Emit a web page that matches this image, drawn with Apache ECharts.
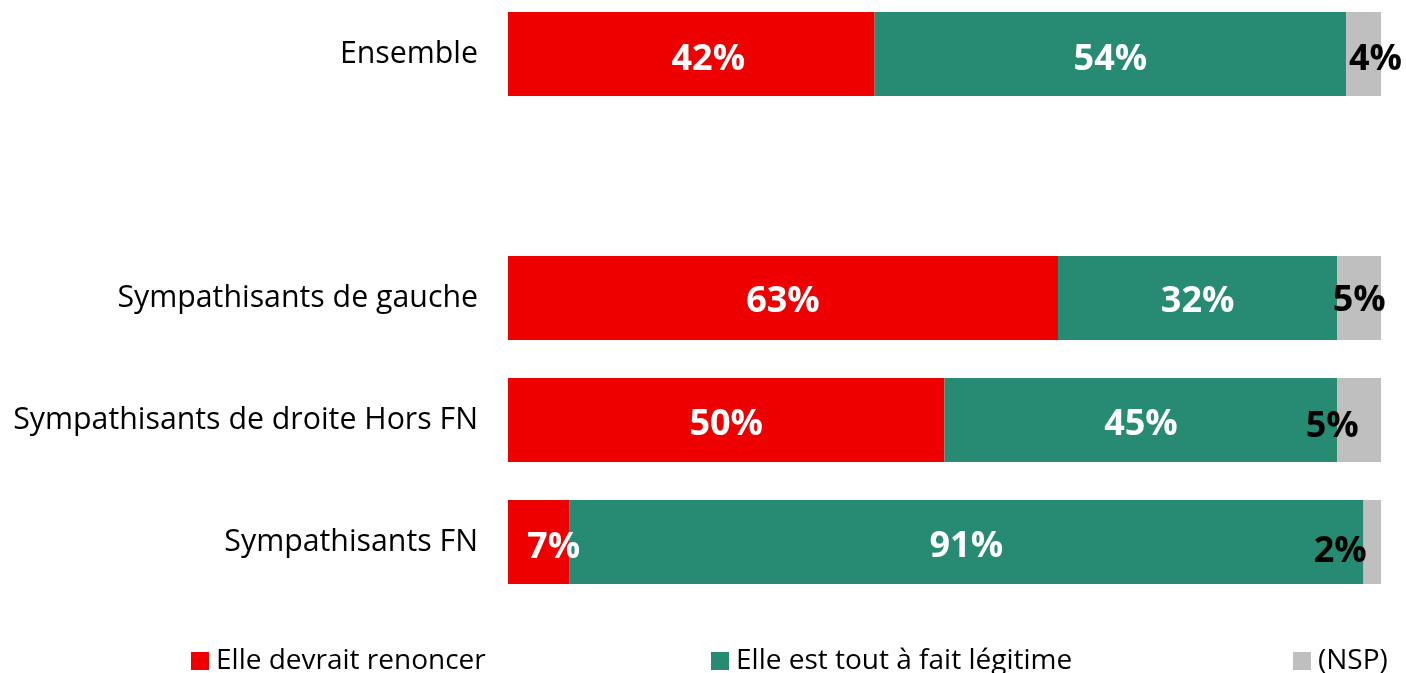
<!DOCTYPE html>
<html><head><meta charset="utf-8">
<script src="https://cdn.jsdelivr.net/npm/echarts@6/dist/echarts.min.js"></script>
<style>html,body{margin:0;padding:0;background:#fff}#c{width:1406px;height:673px}</style>
</head><body><div id="c"></div>
<script>
const categories = ['Ensemble', '', 'Sympathisants de gauche', 'Sympathisants de droite Hors FN', 'Sympathisants FN'];
const renoncer = [42, null, 63, 50, 7];
const legitime = [54, null, 32, 45, 91];
const nsp = [4, null, 5, 5, 2];
const seriesNames = ['Elle devrait renoncer', 'Elle est tout à fait légitime', '(NSP)'];
const colors = ['#EE0000', '#278B74', '#BFBFBF'];
// per-bar label nudges (as placed in the original)
const renoncerOffsets = [[17, 6], [0, 0], [0, 4], [0, 5], [15, 6]];
const legitimeOffsets = [[0, 6], [0, 0], [0, 4], [0, 5], [0, 5]];
const nspOffsets = [[12, 6], [0, 0], [0, 3], [-27, 7], [-32, 10]];

const FONT = 'Open Sans';
function mk(values, offsets) {
  return values.map((v, i) => v == null ? null : { value: v, label: { offset: offsets[i] } });
}
const labelBase = { show: true, position: 'inside', fontFamily: FONT, fontWeight: 'bold', fontSize: 36, formatter: p => p.value + '%' };
const series = [
  { name: seriesNames[0], type: 'bar', stack: 's', barWidth: 84, data: mk(renoncer, renoncerOffsets),
    itemStyle: { color: colors[0] }, label: Object.assign({}, labelBase, { color: '#fff' }) },
  { name: seriesNames[1], type: 'bar', stack: 's', barWidth: 84, data: mk(legitime, legitimeOffsets),
    itemStyle: { color: colors[1] }, label: Object.assign({}, labelBase, { color: '#fff' }) },
  { name: seriesNames[2], type: 'bar', stack: 's', barWidth: 84, data: mk(nsp, nspOffsets),
    itemStyle: { color: colors[2] }, label: Object.assign({}, labelBase, { color: '#000' }) }
];
const legendBase = { top: 642, itemWidth: 18, itemHeight: 18, itemGap: 8, icon: 'rect', textStyle: { fontFamily: FONT, fontSize: 28, color: '#000', padding: [0, 0, 0, 2] } };
const chart = echarts.init(document.getElementById('c'));
chart.setOption({
  animation: false,
  grid: { left: 508, right: 25, top: 54, height: 488 },
  xAxis: { type: 'value', min: 0, max: 100, show: false },
  yAxis: { type: 'category', data: categories, inverse: true, boundaryGap: false,
    axisLine: { show: false }, axisTick: { show: false }, splitLine: { show: false },
    axisLabel: { fontFamily: FONT, fontSize: 30.3, color: '#000', margin: 30, padding: [5, 0, 0, 0] } },
  legend: [
    Object.assign({}, legendBase, { left: 186, data: [seriesNames[0]] }),
    Object.assign({}, legendBase, { left: 706, data: [seriesNames[1]] }),
    Object.assign({}, legendBase, { left: 1288, data: [seriesNames[2]] })
  ],
  series: series
});
</script></body></html>
